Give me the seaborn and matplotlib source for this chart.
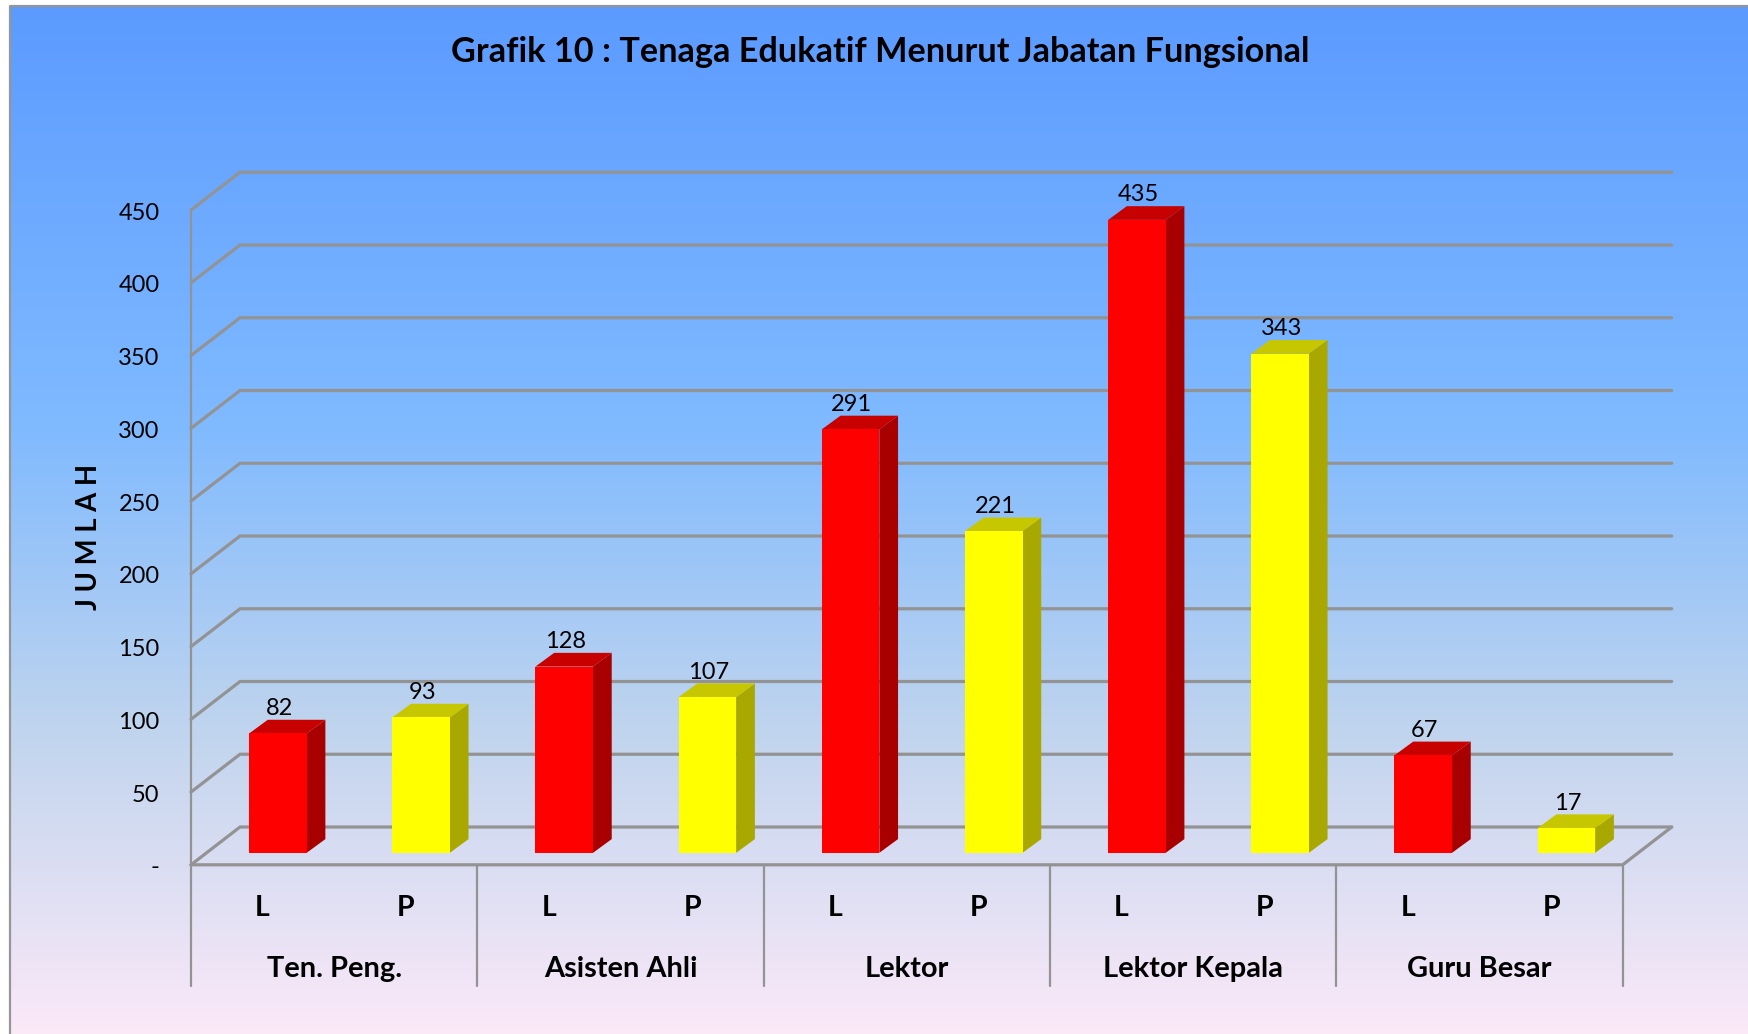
import numpy as np
import pandas as pd
import matplotlib
matplotlib.use('Agg')
import matplotlib.pyplot as plt
from matplotlib.colors import LinearSegmentedColormap, to_rgb
import seaborn as sns

# chart values
groups = ['Ten. Peng.', 'Asisten Ahli', 'Lektor', 'Lektor Kepala', 'Guru Besar']
genders = ['L', 'P']
laki = [82, 128, 291, 435, 67]
perempuan = [93, 107, 221, 343, 17]
y_ticks = [0, 50, 100, 150, 200, 250, 300, 350, 400, 450]
y_tick_labels = ['-', '50', '100', '150', '200', '250', '300', '350', '400', '450']
title = 'Grafik 10 : Tenaga Edukatif Menurut Jabatan Fungsional'
y_label = 'J U M L A H'

W, H = 1748, 1034
FONT = 'Lato'
GRID = '#939393'

# layout in reference pixels
slot = 143.17
bar_x0 = 277.9      # centre of first bar
bar_floor = 852.8   # bottom of bars
unit = 1.455        # pixels per unit
left, right = 191.0, 1622.7
floor_front = 864.8
wall_dx, wall_dy = 49.0, 37.8
bar_dx, bar_dy = 18.7, 13.7


def xd(px):
    return (px - bar_x0) / slot


def yd(py):
    return (bar_floor - py) / unit


# long table for seaborn
rows = []
for i, g in enumerate(groups):
    rows.append({'pos': 2 * i, 'group': g, 'gender': 'L', 'value': laki[i]})
    rows.append({'pos': 2 * i + 1, 'group': g, 'gender': 'P', 'value': perempuan[i]})
df = pd.DataFrame(rows)

sns.set_theme(style='white')
plt.rcParams['font.family'] = [FONT, 'DejaVu Sans']

fig = plt.figure(figsize=(W / 100, H / 100), dpi=100)
ax = fig.add_axes([0, 0, 1, 1])

# background gradient
cmap = LinearSegmentedColormap.from_list('bg', [(0, '#5B9BFF'), (0.41, '#80BAFF'), (0.70, '#BFD4EE'), (1, '#FBE9F8')])
ax.imshow(np.linspace(0, 1, 256).reshape(-1, 1), cmap=cmap, aspect='auto', zorder=0,
          extent=(xd(10), xd(W), yd(H), yd(6)))
ax.plot([xd(10), xd(10), xd(W)], [yd(H), yd(6), yd(6)], color='#969696', lw=1.6, zorder=1)

# wall lines
for v, lab in zip(y_ticks, y_tick_labels):
    y_front = yd(floor_front - unit * v)
    y_back = yd(floor_front - unit * v - wall_dy)
    ax.plot([xd(left), xd(left + wall_dx), xd(right + wall_dx)], [y_front, y_back, y_back],
            color=GRID, lw=2.3, zorder=1, solid_joinstyle='miter')
    ax.text(xd(159.5), yd(floor_front - unit * v + 3), lab,
            ha='right', va='center', fontsize=17, color='black')

# floor and category frame
ax.plot([xd(left), xd(right), xd(right + wall_dx)],
        [yd(floor_front), yd(floor_front), yd(floor_front - wall_dy)], color=GRID, lw=2.3, zorder=1)
ax.plot([xd(left)] * 2, [yd(floor_front - unit * y_ticks[-1]), yd(floor_front)], color=GRID, lw=1.6, zorder=1)
for i in range(len(groups) + 1):
    px = left + 2 * slot * i
    ax.plot([xd(px)] * 2, [yd(floor_front), yd(985.5)], color=GRID, lw=1.6, zorder=1)

# front faces of the bars
sns.barplot(data=df, x='pos', y='value', hue='gender', hue_order=genders,
            palette={'L': '#FF0000', 'P': '#FFFF00'}, native_scale=True, dodge=False,
            width=0.402, saturation=1, legend=False, linewidth=0, ax=ax, zorder=3)

# side and top faces, and value labels
ddx = bar_dx / slot
ddy = bar_dy / unit
for patch in list(ax.patches):
    x0 = patch.get_x()
    x1 = x0 + patch.get_width()
    h = patch.get_height()
    rgb = np.array(to_rgb(patch.get_facecolor()))
    ax.fill([x1, x1 + ddx, x1 + ddx, x1], [0, ddy, h + ddy, h], color=rgb * 0.66, lw=0, zorder=2.9)
    ax.fill([x0, x0 + ddx, x1 + ddx, x1], [h, h + ddy, h + ddy, h], color=rgb * 0.78, lw=0, zorder=2.9)
    ax.text((x0 + x1) / 2 + 1.2 / slot, h + 25 / unit, f'{h:.0f}', ha='center', va='center',
            fontsize=17, color='black', zorder=4)

# category labels
for i, g in enumerate(groups):
    for j, s in enumerate(genders):
        ax.text(xd(left + slot * (2 * i + j + 0.5)), yd(907.5), s, ha='center', va='center',
                fontsize=20.5, fontweight='bold', color='black')
    ax.text(xd(left + slot * (2 * i + 1)), yd(969), g, ha='center', va='center',
            fontsize=20.9, fontweight='bold', color='black')

ax.text(xd(880.5), yd(52.5), title, ha='center', va='center', fontsize=24.7, fontweight='bold', color='black')
ax.text(xd(89), yd(537), y_label, ha='center', va='center', rotation=90, fontsize=19.8,
        fontweight='bold', color='black')

ax.set_xlim(xd(0), xd(W))
ax.set_ylim(yd(H), yd(0))
ax.axis('off')

fig.savefig('out.png', dpi=100, facecolor='white')
